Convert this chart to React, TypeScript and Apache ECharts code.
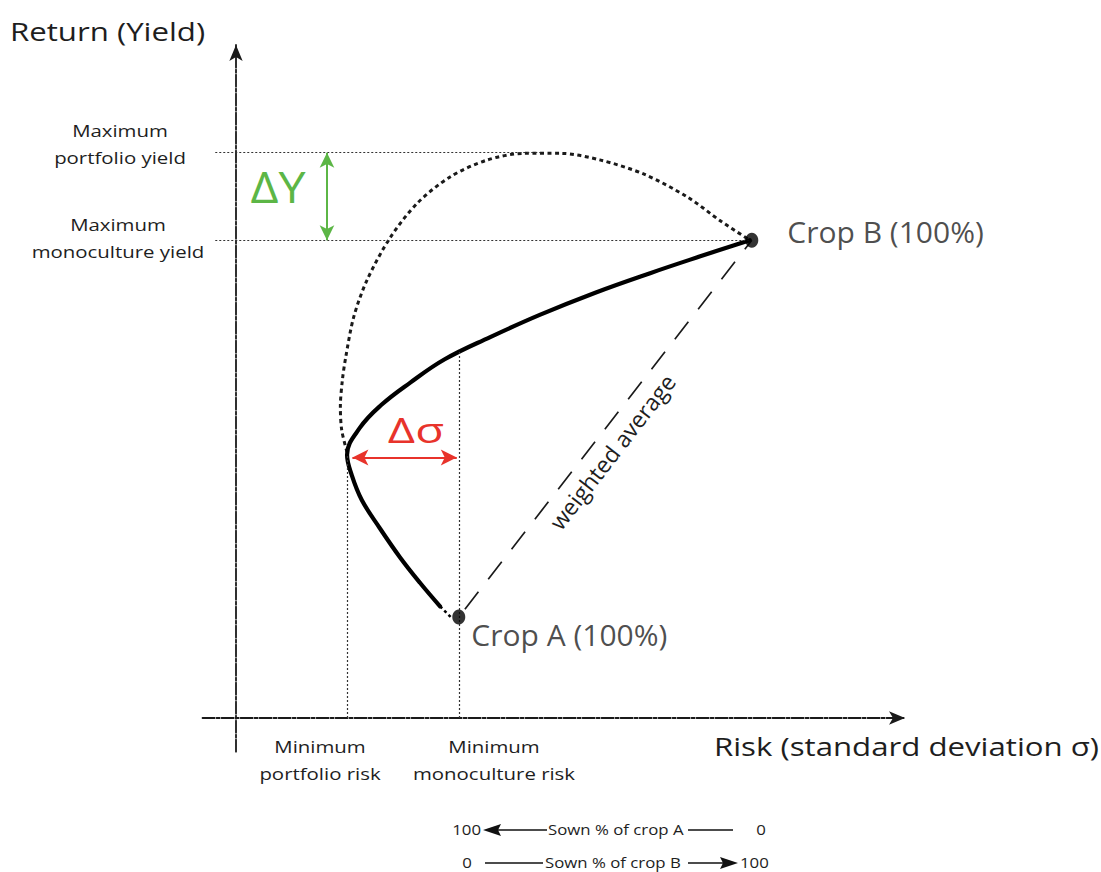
import React, { useEffect, useRef } from "react";
import * as echarts from "echarts";

const FONT = "'Open Sans', 'Noto Sans', sans-serif";
const INK = "#1a1a1a";
const TEXT = "#1e1e1e";
const GREEN = "#5cb646";
const RED = "#e8332b";
const SX = 1.2; // horizontal stretch of the lettering

// Crops (monoculture points)
const cropNames = ["Crop A (100%)", "Crop B (100%)"];
const cropRisk = [3.33, 7.71];
const cropReturn = [1.5, 7.1];

// Efficient frontier (mixtures of crop A and crop B)
const frontierRisk = [3.05, 2.75, 2.45, 2.15, 1.88, 1.73, 1.66, 1.85, 2.17, 2.6, 3.12, 3.8, 4.54, 5.37, 6.19, 6.94, 7.68];
const frontierReturn = [1.66, 2.01, 2.39, 2.82, 3.24, 3.61, 3.91, 4.31, 4.65, 4.98, 5.33, 5.66, 5.99, 6.32, 6.61, 6.86, 7.1];
const frontierTailRisk = [3.05, 3.24];
const frontierTailReturn = [1.66, 1.47];

// Outer (dotted) curve
const envelopeRisk = [1.66, 1.58, 1.56, 1.59, 1.64, 1.76, 1.96, 2.3, 2.71, 3.2, 3.75, 4.3, 4.85, 5.45, 6.1, 6.75, 7.25, 7.68];
const envelopeReturn = [3.95, 4.28, 4.62, 5.02, 5.36, 5.96, 6.51, 7.13, 7.65, 8.04, 8.29, 8.39, 8.39, 8.29, 8.08, 7.74, 7.38, 7.1];

// Reference levels
const maxPortfolioYield = 8.4;
const maxMonocultureYield = 7.1;
const minPortfolioRisk = 1.66;
const minPortfolioRiskReturn = 3.91;
const minMonocultureRisk = 3.33;
const minMonocultureRiskReturn = 5.47;
const guideStartRisk = -0.31;
const maxYieldGuideEnd = 4.55;
const deltaYRisk = 1.36;

const zip = (a: number[], b: number[]) => a.map((v, i) => [v, b[i]]);

const txt = (x: number, y: number, text: string, fontSize: number, extra: any = {}, scaleX = SX) => ({
  type: "text",
  x,
  y,
  scaleX,
  style: {
    text,
    fontSize,
    fontFamily: FONT,
    fill: TEXT,
    textVerticalAlign: "middle",
    ...extra,
  },
});

export default function App() {
  const ref = useRef<HTMLDivElement>(null);
  useEffect(() => {
    if (!ref.current) return;
    const chart = echarts.init(ref.current, null, { renderer: "svg" });
    const guideStyle = { color: "#333", width: 1.2, type: [2, 2] as any };
    const axisLine = {
      show: true,
      onZero: true,
      symbol: ["none", "arrow"],
      symbolSize: [10, 16],
      lineStyle: { color: INK, width: 1.8, type: [12, 2, 3, 2] },
    };
    const option: any = {
      animation: false,
      backgroundColor: "#ffffff",
      textStyle: { fontFamily: FONT },
      grid: { left: 202.55, right: 196, top: 45, bottom: 120.35 },
      xAxis: {
        type: "value",
        min: -0.5,
        max: 10,
        splitLine: { show: false },
        axisTick: { show: false },
        axisLabel: { show: false },
        axisLine,
      },
      yAxis: {
        type: "value",
        min: -0.5,
        max: 10,
        splitLine: { show: false },
        axisTick: { show: false },
        axisLabel: { show: false },
        axisLine,
      },
      series: [
        {
          name: "guides",
          type: "line",
          data: [],
          silent: true,
          markLine: {
            silent: true,
            symbol: ["none", "none"],
            label: { show: false },
            lineStyle: guideStyle,
            data: [
              [{ coord: [guideStartRisk, maxPortfolioYield] }, { coord: [maxYieldGuideEnd, maxPortfolioYield] }],
              [{ coord: [guideStartRisk, maxMonocultureYield] }, { coord: [cropRisk[1], maxMonocultureYield] }],
              [{ coord: [minPortfolioRisk, 0] }, { coord: [minPortfolioRisk, minPortfolioRiskReturn] }],
              [{ coord: [minMonocultureRisk, 0] }, { coord: [minMonocultureRisk, minMonocultureRiskReturn] }],
            ],
          },
        },
        {
          name: "envelope",
          type: "line",
          data: zip(envelopeRisk, envelopeReturn),
          smooth: 0.3,
          showSymbol: false,
          lineStyle: { color: INK, width: 3, type: [4, 3.5] },
        },
        {
          name: "frontier",
          type: "line",
          data: zip(frontierRisk, frontierReturn),
          smooth: 0.4,
          showSymbol: false,
          lineStyle: { color: "#000", width: 4.2, cap: "round", join: "round" },
        },
        {
          name: "frontier tail",
          type: "line",
          data: zip(frontierTailRisk, frontierTailReturn),
          showSymbol: false,
          lineStyle: { color: "#000", width: 2.5, type: [3, 3] },
        },
        {
          name: "weighted average",
          type: "line",
          data: [],
          markLine: {
            silent: true,
            symbol: ["none", "none"],
            lineStyle: { color: INK, width: 1.7, type: [22, 16], dashOffset: 28 },
            label: {
              show: true,
              formatter: "weighted average",
              position: "insideMiddleBottom",
              distance: 8,
              padding: [0, 28, 0, 0],
              color: TEXT,
              fontSize: 23,
              fontFamily: FONT,
            },
            data: [[{ coord: [cropRisk[0], cropReturn[0]] }, { coord: [cropRisk[1], cropReturn[1]] }]],
          },
        },
        {
          name: "deltaY",
          type: "line",
          data: [],
          markLine: {
            silent: true,
            symbol: ["arrow", "arrow"],
            symbolSize: [11, 15],
            label: { show: false },
            lineStyle: { color: GREEN, width: 2, type: "solid" },
            itemStyle: { color: GREEN },
            data: [[{ coord: [deltaYRisk, maxPortfolioYield] }, { coord: [deltaYRisk, maxMonocultureYield] }]],
          },
        },
        {
          name: "deltaSigma",
          type: "line",
          data: [],
          markLine: {
            silent: true,
            symbol: ["arrow", "arrow"],
            symbolSize: [12, 16],
            label: { show: false },
            lineStyle: { color: RED, width: 2, type: "solid" },
            itemStyle: { color: RED },
            data: [[{ coord: [minPortfolioRisk + 0.08, minPortfolioRiskReturn - 0.04] }, { coord: [minMonocultureRisk - 0.03, minPortfolioRiskReturn - 0.04] }]],
          },
        },
        {
          name: "crops",
          type: "scatter",
          symbol: "circle",
          symbolSize: [13, 15],
          itemStyle: { color: "#000" },
          z: 5,
          data: cropNames.map((n, i) => ({
            name: n,
            value: [cropRisk[i], cropReturn[i]],
            label: {
              show: true,
              position: "right",
              distance: i === 0 ? 6 : 29,
              offset: i === 0 ? [0, 17] : [0, -9],
              formatter: n,
              fontSize: 30,
              color: TEXT,
              fontFamily: FONT,
            },
          })),
        },
      ],
      graphic: [
        txt(10, 31, "Return (Yield)", 26),
        txt(120, 144, "Maximum\nportfolio yield", 17, { lineHeight: 27, textAlign: "center" }),
        txt(118, 238, "Maximum\nmonoculture yield", 17, { lineHeight: 27, textAlign: "center" }),
        txt(320, 760, "Minimum\nportfolio risk", 17, { lineHeight: 27, textAlign: "center" }),
        txt(494, 760, "Minimum\nmonoculture risk", 17, { lineHeight: 27, textAlign: "center" }),
        txt(714, 746, "Risk (standard deviation σ)", 26),
        txt(278, 186, "ΔY", 44, { fill: GREEN, textAlign: "center" }, 1.1),
        txt(416, 430, "Δσ", 35, { fill: RED, textAlign: "center" }, 1.35),
        // Sowing legend, row A
        txt(481, 830, "100", 14, { textAlign: "right" }),
        { type: "polygon", shape: { points: [[483, 830], [501, 824], [498, 830], [501, 836]] }, style: { fill: "#111" } },
        { type: "line", shape: { x1: 498, y1: 830, x2: 547, y2: 830 }, style: { stroke: "#111", lineWidth: 1.5 } },
        txt(548, 830, "Sown % of crop A", 14),
        { type: "line", shape: { x1: 688, y1: 830, x2: 733, y2: 830 }, style: { stroke: "#111", lineWidth: 1.5 } },
        txt(761, 830, "0", 14, { textAlign: "center" }),
        // Sowing legend, row B
        txt(467, 863, "0", 14, { textAlign: "center" }),
        { type: "line", shape: { x1: 485, y1: 863, x2: 543, y2: 863 }, style: { stroke: "#111", lineWidth: 1.5 } },
        txt(545, 863, "Sown % of crop B", 14),
        { type: "line", shape: { x1: 688, y1: 863, x2: 725, y2: 863 }, style: { stroke: "#111", lineWidth: 1.5 } },
        { type: "polygon", shape: { points: [[738, 863], [720, 857], [723, 863], [720, 869]] }, style: { fill: "#111" } },
        txt(740, 863, "100", 14),
      ],
    };
    chart.setOption(option);
    return () => chart.dispose();
  }, []);
  return (
    <div
      ref={ref}
      style={{ position: "fixed", left: 0, top: 0, width: 1101, height: 872, background: "#fff" }}
    />
  );
}
